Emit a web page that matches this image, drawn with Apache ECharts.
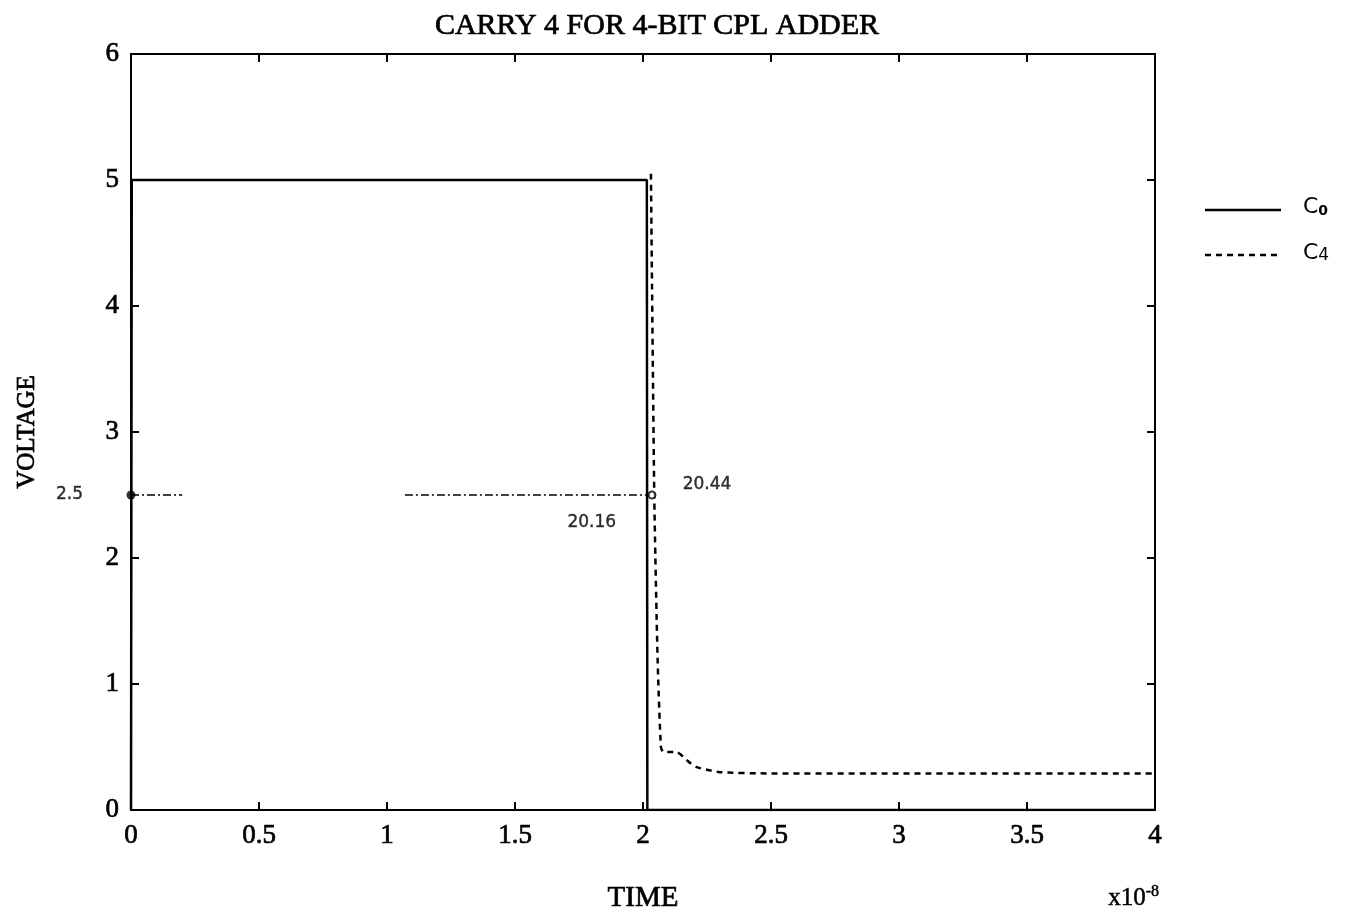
<!DOCTYPE html>
<html>
<head>
<meta charset="utf-8">
<script src="https://cdn.jsdelivr.net/npm/echarts@6/dist/echarts.min.js"></script>
<style>
html,body{margin:0;padding:0;background:#fff;overflow:hidden;}
#chart{width:1355px;height:917px;}
</style>
</head>
<body>
<div id="chart"></div>
<script>
// Data (time in units of 1e-8 s, voltage in V)
const titleText = 'CARRY 4 FOR 4-BIT CPL ADDER';
const xTicks = [0, 0.5, 1, 1.5, 2, 2.5, 3, 3.5, 4];
const yTicks = [0, 1, 2, 3, 4, 5, 6];
const c0Data = [[0, 0], [0.003, 5], [2.015, 5], [2.016, 2.5], [2.017, 0], [4, 0]];
const c4Data = [[2.031, 5.05], [2.044, 2.5], [2.057, 1.2], [2.07, 0.5], [2.08, 0.46], [2.13, 0.46], [2.18, 0.38], [2.21, 0.34], [2.25, 0.32], [2.3, 0.3], [2.5, 0.29], [3, 0.29], [3.5, 0.29], [4, 0.29]];
const refLineA = [[0, 2.5], [0.2, 2.5]];
const refLineB = [[1.07, 2.5], [2.03, 2.5]];
const refPoint = [[0, 2.5]];
const crossPoint = [[2.035, 2.5]];
const annotations = [
  {text: '2.5', x: -0.24, y: 2.5},
  {text: '20.16', x: 1.8, y: 2.28},
  {text: '20.44', x: 2.25, y: 2.58}
];
const legendNames = ['C0', 'C4'];

const chart = echarts.init(document.getElementById('chart'), null, {width: 1355, height: 917});
const serif = '"Liberation Serif", "DejaVu Serif", serif';
const hand = '"DejaVu Sans", sans-serif';
const thick = {textBorderColor: '#000', textBorderWidth: 0.7};
const axisCommon = {
  type: 'value', min: 0, splitLine: {show: false},
  axisLine: {show: true, onZero: false, lineStyle: {color: '#000', width: 2}},
  axisTick: {show: true, inside: true, length: 8, lineStyle: {color: '#000', width: 2}}
};
const option = {
  backgroundColor: '#fff',
  animation: false,
  title: {text: titleText, left: 652, top: 6, textAlign: 'center',
    textStyle: Object.assign({fontFamily: serif, fontSize: 30, fontWeight: 'normal', color: '#000'}, thick)},
  grid: {left: 131, right: 200, top: 54, bottom: 107, containLabel: false, outerBoundsMode: 'none'},
  xAxis: [
    Object.assign({}, axisCommon, {max: 4, interval: 0.5, position: 'bottom',
      axisLabel: Object.assign({margin: 12, fontFamily: serif, fontSize: 27, color: '#000',
        formatter: v => String(v)}, thick),
      name: 'TIME', nameLocation: 'middle', nameGap: 74,
      nameTextStyle: Object.assign({fontFamily: serif, fontSize: 29, color: '#000'}, thick)}),
    Object.assign({}, axisCommon, {max: 4, interval: 0.5, position: 'top', axisLabel: {show: false}})
  ],
  yAxis: [
    Object.assign({}, axisCommon, {max: 6, interval: 1, position: 'left',
      axisLabel: Object.assign({margin: 12, fontFamily: serif, fontSize: 27, color: '#000'}, thick),
      name: 'VOLTAGE', nameLocation: 'middle', nameGap: 91, nameRotate: 90,
      nameTextStyle: Object.assign({fontFamily: serif, fontSize: 25, color: '#000'}, thick)}),
    Object.assign({}, axisCommon, {max: 6, interval: 1, position: 'right', axisLabel: {show: false}})
  ],
  graphic: [
    {type: 'text', left: 1108, top: 884,
      style: {text: 'x10{sup|-8}', font: '25px ' + serif, fill: '#000', stroke: '#000', lineWidth: 0.5,
        rich: {sup: {fontSize: 16, fontFamily: serif, verticalAlign: 'top', padding: [0, 0, 12, 0]}}}},
    {type: 'line', shape: {x1: 1205, y1: 210, x2: 1281, y2: 210},
      style: {stroke: '#000', lineWidth: 2.5}},
    {type: 'line', shape: {x1: 1205, y1: 255, x2: 1281, y2: 255},
      style: {stroke: '#000', lineWidth: 2.5, lineDash: [6, 5]}},
    {type: 'text', left: 1303, top: 196,
      style: {text: 'C{s|' + legendNames[0].slice(1) + '}', font: '22px ' + hand, fill: '#000',
        rich: {s: {fontSize: 14, fontFamily: hand, fontWeight: 'bold', verticalAlign: 'bottom', padding: [6, 0, 0, 0]}}}},
    {type: 'text', left: 1303, top: 242,
      style: {text: 'C{s|' + legendNames[1].slice(1) + '}', font: '22px ' + hand, fill: '#000',
        rich: {s: {fontSize: 17, fontFamily: hand, verticalAlign: 'bottom', padding: [4, 0, 0, 0]}}}}
  ],
  series: [
    {name: legendNames[0], type: 'line', data: c0Data, symbol: 'none', z: 3,
      lineStyle: {color: '#000', width: 2.5, type: 'solid'}, itemStyle: {color: '#000'}},
    {name: legendNames[1], type: 'line', data: c4Data, symbol: 'none', smooth: 0.2, z: 3,
      lineStyle: {color: '#000', width: 2.5, type: [6, 5]}, itemStyle: {color: '#000'}},
    {name: 'refA', type: 'line', data: refLineA, symbol: 'none',
      lineStyle: {color: '#000', width: 1.5, type: [8, 3, 2, 3]}},
    {name: 'refB', type: 'line', data: refLineB, symbol: 'none',
      lineStyle: {color: '#000', width: 1.5, type: [8, 3, 2, 3]}},
    {name: 'refPt', type: 'scatter', data: refPoint, symbol: 'circle', symbolSize: 9,
      itemStyle: {color: '#000'}, z: 5},
    {name: 'crossPt', type: 'scatter', data: crossPoint, symbol: 'emptyCircle', symbolSize: 7,
      itemStyle: {color: '#000', borderWidth: 1.5}, z: 5},
    {name: 'notes', type: 'scatter', symbolSize: 0, clip: false,
      data: annotations.map(a => ({value: [a.x, a.y], name: a.text})),
      label: {show: true, position: 'inside', formatter: p => p.name,
        fontFamily: hand, fontSize: 17, color: '#000', textBorderColor: '#000', textBorderWidth: 0.4}, z: 6}
  ]
};
chart.setOption(option);
</script>
</body>
</html>
